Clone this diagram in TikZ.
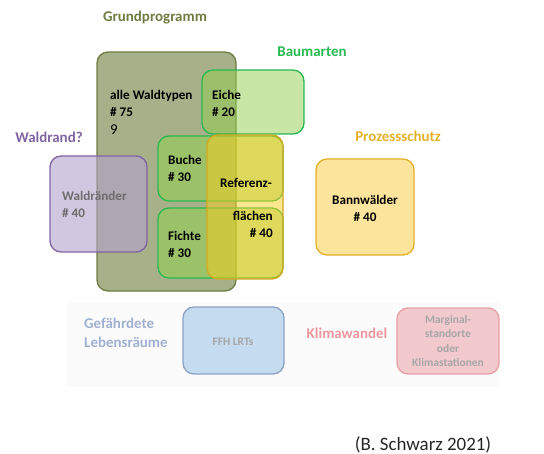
\documentclass[tikz,border=0pt]{standalone}
\usepackage{fontspec}
\setmainfont{Carlito}
\usetikzlibrary{positioning}

\definecolor{grundcol}{RGB}{110,124,66}
\definecolor{grundfill}{RGB}{120,134,72}
\definecolor{baumcol}{RGB}{40,185,80}
\definecolor{baumfill}{RGB}{146,208,80}
\definecolor{randcol}{RGB}{128,100,162}
\definecolor{randfill}{RGB}{180,162,205}
\definecolor{refcol}{RGB}{212,168,32}
\definecolor{reffill}{RGB}{250,205,30}
\definecolor{prozcol}{RGB}{228,176,40}
\definecolor{bannfill}{RGB}{253,228,156}
\definecolor{ffhcol}{RGB}{140,163,198}
\definecolor{ffhfill}{RGB}{197,219,239}
\definecolor{ffhtext}{RGB}{160,176,208}
\definecolor{klimacol}{RGB}{232,160,168}
\definecolor{klimafill}{RGB}{242,201,205}
\definecolor{klimatext}{RGB}{240,150,160}

\tikzset{
    every node/.style={inner sep=0pt, font=\bfseries\fontsize{13.2}{17}\selectfont},
    heading/.style={font=\bfseries\fontsize{15}{19}\selectfont},
    box/.style={rounded corners=11bp, line width=1.3bp},
    smalltext/.style={font=\bfseries\fontsize{11.5}{14.5}\selectfont, text=gray!70, align=center}
}

\begin{document}
\begin{tikzpicture}[x=1bp, y=-1bp]

    \useasboundingbox (0,0) rectangle (544,454);
    \fill[gray!3] (67,302) rectangle (500,387);

    % Grundprogramm
    \draw[box, draw=grundcol, fill=grundfill, fill opacity=0.65] (97,52) rectangle (236,291);
    \draw[box, draw=baumcol, fill=baumfill, fill opacity=0.5] (202,70) rectangle (304,134);
    \draw[box, draw=randcol, fill=randfill, fill opacity=0.6] (50,156) rectangle (147,252);
    \draw[box, draw=baumcol, fill=baumfill, fill opacity=0.55] (158,136) rectangle (283,201);
    \draw[box, draw=baumcol, fill=baumfill, fill opacity=0.55] (158,208) rectangle (283,278);
    \draw[box, draw=refcol, fill=reffill, fill opacity=0.5] (207,135) rectangle (283,279);
    \draw[box, draw=prozcol, fill=bannfill] (316,159) rectangle (414,255);

    % untere Reihe
    \draw[box, draw=ffhcol, fill=ffhfill] (183,307) rectangle (284,374);
    \draw[box, draw=klimacol, fill=klimafill] (397,308) rectangle (499,374);

    % Ueberschriften
    \node[heading, text=grundcol] (grund) at (155,18) {Grundprogramm};
    \node[heading, text=baumcol] (baum) at (312,52) {Baumarten};
    \node[heading, text=randcol] (rand) at (49,137) {Waldrand?};
    \node[heading, text=prozcol] (proz) at (398,136) {Prozessschutz};
    \node[heading, text=ffhtext, align=left, anchor=west] (gefahr) at (84,333) {Gefährdete\\Lebensräume};
    \node[heading, text=klimatext] (klima) at (347,333) {Klimawandel};

    % Inhalte
    \node[align=left, anchor=west] (alle) at (110,103) {alle Waldtypen\\\# 75};
    \node[font=\fontsize{15}{17}\selectfont, anchor=west] (neun) at (110,130) {9};
    \node[align=left, anchor=west] (eiche) at (212,103) {Eiche\\\# 20};
    \node[align=left, anchor=west, text=gray!85!black] (raender) at (62,204) {Waldränder\\\# 40};
    \node[align=left, anchor=west] (buche) at (168,168.5) {Buche\\\# 30};
    \node[align=left, anchor=west] (fichte) at (168,244) {Fichte\\\# 30};
    \node (referenz) at (246,183) {Referenz-};
    \node[align=right, anchor=east] (flaechen) at (273,224) {flächen\\\# 40};
    \node[align=center] (bann) at (365,208) {Bannwälder\\\# 40};
    \node[smalltext] (ffh) at (233,342) {FFH LRTs};
    \node[smalltext] (marginal) at (448,341) {Marginal-\\standorte\\oder\\Klimastationen};

    \node[font=\fontsize{19}{21}\selectfont, text=black!85] (quelle) at (423,445) {(B. Schwarz 2021)};

\end{tikzpicture}
\end{document}
